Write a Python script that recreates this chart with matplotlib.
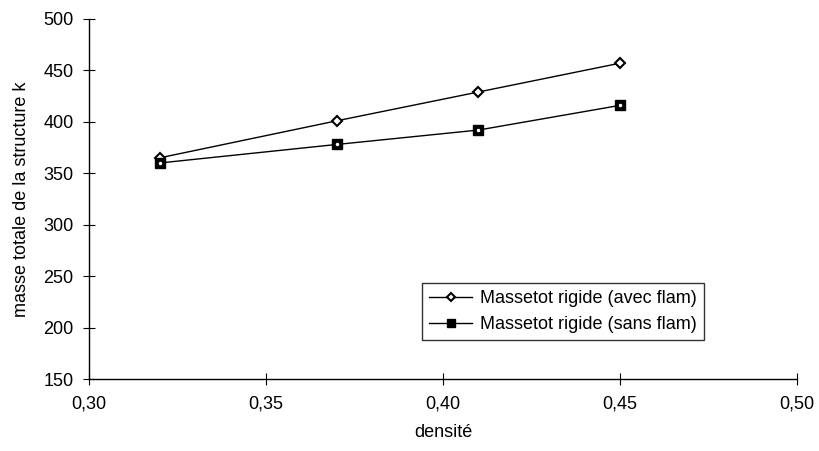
import matplotlib.pyplot as plt
from matplotlib.ticker import FuncFormatter

plt.rcParams['font.family'] = ['Liberation Sans', 'DejaVu Sans']

# données
densite = [0.32, 0.37, 0.41, 0.45]
avec_flam = [365, 401, 429, 457]
sans_flam = [360, 378, 392, 416]

x_ticks = [0.30, 0.35, 0.40, 0.45, 0.50]
y_ticks = [150, 200, 250, 300, 350, 400, 450, 500]

fig = plt.figure(figsize=(8.2, 4.51), dpi=100)
ax = fig.add_axes([0.1085, 0.1596, 0.8635, 0.7984])

ax.plot(densite, avec_flam, color='black', linewidth=1.0, marker='D',
        markersize=5.5, markerfacecolor='white', markeredgecolor='black',
        markeredgewidth=1.5, label='Massetot rigide (avec flam)')
ax.plot(densite, sans_flam, color='black', linewidth=1.0, marker='s',
        markersize=7, markerfacecolor='black', markeredgecolor='black',
        label='Massetot rigide (sans flam)')
# petit point blanc au centre des carrés
ax.plot(densite, sans_flam, linestyle='none', marker='o', markersize=1.5,
        markerfacecolor='white', markeredgecolor='white')

ax.set_xlim(0.30, 0.50)
ax.set_ylim(150, 500)
ax.set_xticks(x_ticks)
ax.set_yticks(y_ticks)
ax.xaxis.set_major_formatter(FuncFormatter(lambda v, p: f"{v:.2f}".replace('.', ',')))

for side in ['top', 'right']:
    ax.spines[side].set_visible(False)
ax.spines['left'].set_linewidth(1.0)
ax.spines['bottom'].set_linewidth(1.0)
ax.tick_params(axis='both', direction='inout', length=8, width=0.8,
               labelsize=13, colors='black')
ax.tick_params(axis='x', pad=8)
ax.tick_params(axis='y', pad=7)

ax.set_xlabel('densité', fontsize=13, labelpad=8)
ax.set_ylabel('masse totale de la structure k', fontsize=13, labelpad=10)

leg = ax.legend(loc='lower left', bbox_to_anchor=(0.47, 0.108), fontsize=13,
                frameon=True, fancybox=False, edgecolor='black',
                borderaxespad=0, handlelength=2.4, handletextpad=0.45,
                borderpad=0.4, labelspacing=0.5, markerscale=0.8)
leg.get_frame().set_linewidth(1.0)

plt.savefig('out.png', dpi=100)
